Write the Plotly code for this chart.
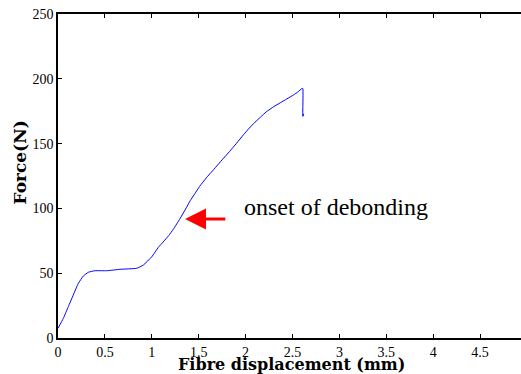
import plotly.graph_objects as go

# Data
disp_mm = [0, 0.057, 0.11, 0.163, 0.217, 0.27, 0.323, 0.394, 0.52, 0.66, 0.84,
           0.91, 1.0, 1.07, 1.12, 1.18, 1.23, 1.30, 1.36, 1.41, 1.46, 1.51, 1.58,
           1.66, 1.75, 1.83, 1.90, 1.98, 2.04, 2.10, 2.16, 2.22, 2.30, 2.37,
           2.44, 2.51, 2.56, 2.60, 2.61, 2.61, 2.62]
force_n = [7.5, 15.2, 24.2, 33.2, 42.2, 47.8, 50.7, 51.9, 51.9, 53.0, 53.8,
           56.3, 62.7, 70, 74, 79, 84, 92, 99.5, 106, 111.5, 117, 123.5,
           130, 137.5, 144, 150, 157, 162, 166.5, 170.5, 174.5, 178.5, 181.5,
           184.5, 187.5, 190, 192.5, 192.5, 171, 173]
x_ticks = [0, 0.5, 1, 1.5, 2, 2.5, 3, 3.5, 4, 4.5]
y_ticks = [0, 50, 100, 150, 200, 250]
arrow_tip = (1.354, 91.8)
arrow_tail = (1.80, 91.8)
label_pos = (1.965, 101)

serif = "Liberation Serif"
bold_serif = "DejaVu Serif"

# plot area in pixels: left 58, right 521, top 14, bottom 338
PL, PR, PT, PB = 58, 521, 14, 338


def px_to_paper(px, py):
    return (px - PL) / (PR - PL), (PB - py) / (PB - PT)


fig = go.Figure()
fig.add_trace(go.Scatter(x=disp_mm, y=force_n, mode="lines",
                         line=dict(color="#0000ff", width=1, shape="spline", smoothing=0.4),
                         showlegend=False))

fig.add_annotation(x=arrow_tip[0], y=arrow_tip[1], ax=arrow_tail[0], ay=arrow_tail[1],
                   xref="x", yref="y", axref="x", ayref="y", text="",
                   showarrow=True, arrowhead=2, arrowsize=1.4, arrowwidth=3,
                   arrowcolor="#ff0000")
fig.add_annotation(x=label_pos[0], y=label_pos[1], xref="x", yref="y",
                   text="onset of debonding", showarrow=False, xanchor="left",
                   yanchor="middle",
                   font=dict(family=serif, size=24, color="black"))

yx, yy = px_to_paper(19, 162.5)
fig.add_annotation(x=yx, y=yy, xref="paper", yref="paper",
                   text="<b>Force(N)</b>", textangle=-90, showarrow=False,
                   xanchor="center", yanchor="middle",
                   font=dict(family=bold_serif, size=17, color="black"))
xx, xy = px_to_paper(291.7, 364)
fig.add_annotation(x=xx, y=xy, xref="paper", yref="paper",
                   text="<b>Fibre displacement (mm)</b>", showarrow=False,
                   xanchor="center", yanchor="middle",
                   font=dict(family=bold_serif, size=16, color="black"))

axis_font = dict(family=serif, size=14, color="black")
fig.update_layout(
    width=521, height=374,
    margin=dict(l=PL, r=521 - PR, t=PT, b=374 - PB, pad=0),
    plot_bgcolor="white", paper_bgcolor="white",
    xaxis=dict(range=[0, 4.936], tickvals=x_ticks, ticktext=[f"{v:g}" for v in x_ticks],
               ticks="inside", ticklen=4, tickwidth=1, tickcolor="black",
               showline=True, linecolor="black", linewidth=1.5, mirror="ticks",
               showgrid=False, zeroline=False, tickfont=axis_font, automargin=False),
    yaxis=dict(range=[0, 250], tickvals=y_ticks, ticks="inside", ticklen=4, tickwidth=1,
               tickcolor="black", showline=True, linecolor="black", linewidth=1.5,
               mirror=False, showgrid=False, zeroline=False, tickfont=axis_font,
               automargin=False),
)
fig.write_html("out.html")
